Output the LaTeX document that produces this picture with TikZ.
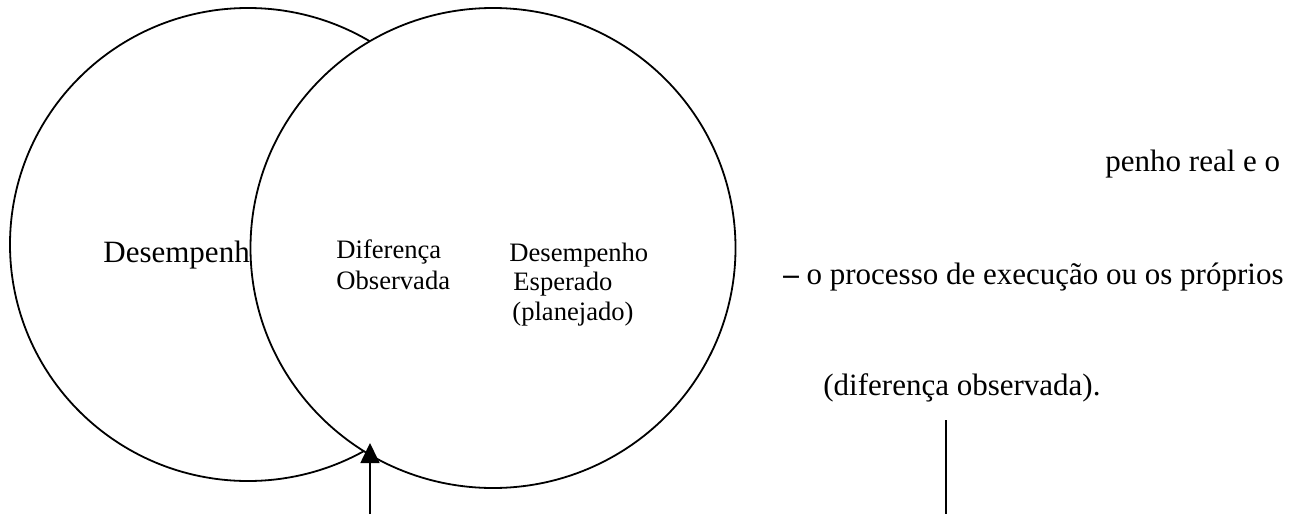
\documentclass[tikz,border=0pt]{standalone}
\usepackage{fontspec}
\setmainfont{Liberation Serif}
\usetikzlibrary{arrows.meta}
\begin{document}
\begin{tikzpicture}[x=0.5pt,y=-0.5pt,
  ring/.style={draw=black,line width=0.9pt},
  bigtxt/.style={inner sep=0pt,anchor=base west,font=\fontsize{15.5pt}{18pt}\selectfont},
  smalltxt/.style={inner sep=0pt,anchor=base west,font=\fontsize{13.3pt}{16pt}\selectfont},
  pointer/.style={draw=black,line width=0.85pt},
]
\useasboundingbox (0,0) rectangle (1316,514);

% actual performance circle (left)
\coordinate (real) at (248,244.5);
\draw[ring] (real) ellipse [x radius=238,y radius=236.5];
\node[bigtxt] (realtxt) at (103,262) {Desempenh};

% expected performance circle (right), drawn on top with a white fill
\coordinate (plan) at (493,248);
\draw[ring,fill=white] (plan) ellipse [x radius=242.5,y radius=240];

\node[smalltxt] (dif1) at (336,258) {Diferença};
\node[smalltxt] (dif2) at (336,289) {Observada};
\node[smalltxt] (esp1) at (509,261) {Desempenho};
\node[smalltxt] (esp2) at (513,290) {Esperado};
\node[smalltxt] (esp3) at (512,320) {(planejado)};

% arrow pointing at the lower intersection
\coordinate (arrowfoot) at (370,514);
\coordinate (arrowtip) at (370,443);
\draw[pointer,-{Triangle[length=10pt,width=9.5pt]}] (arrowfoot) -- (arrowtip);

% running text on the right
\node[bigtxt] (line1) at (1105,171) {penho real e o};
\node[bigtxt] (line2) at (783,284) {{\bfseries –} o processo de execução ou os próprios};
\node[bigtxt] (line3) at (823,395) {(diferença observada).};

\coordinate (ruletop) at (946,420);
\coordinate (rulefoot) at (946,514);
\draw[pointer] (ruletop) -- (rulefoot);
\end{tikzpicture}
\end{document}
